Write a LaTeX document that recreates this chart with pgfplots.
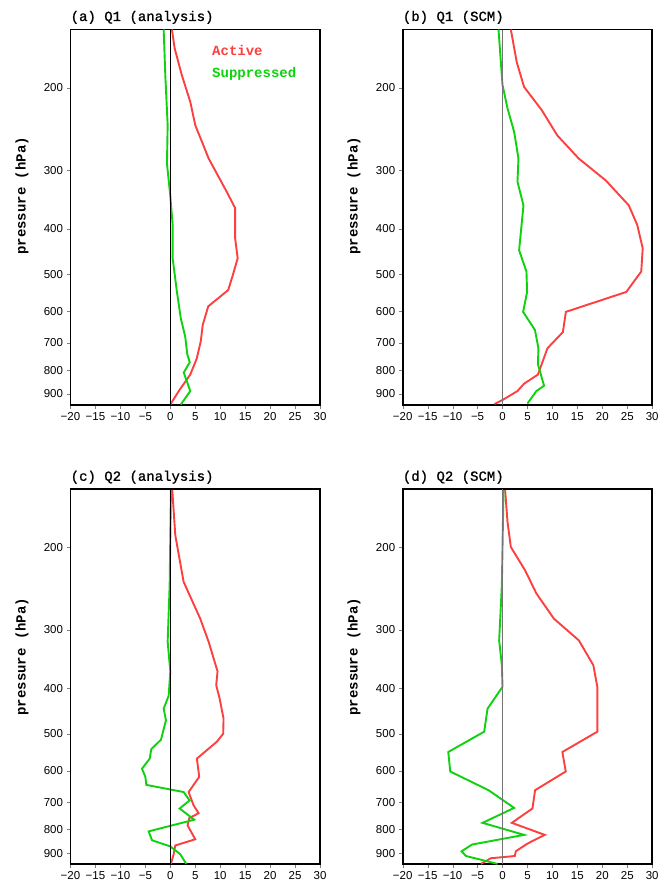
\documentclass[border=0pt]{standalone}
\usepackage{fontspec}
\setmainfont{Liberation Sans}
\newfontfamily\monofont{Liberation Mono}
\newfontfamily\monomed[FakeBold=1]{Liberation Mono}
\usepackage{pgfplots}
\pgfplotsset{compat=1.18}
\definecolor{actred}{RGB}{252,64,64}
\definecolor{supgreen}{RGB}{15,210,15}

\pgfplotsset{
  every axis/.append style={
    scale only axis, width=249.5pt, height=375.5pt,
    xmin=-20, xmax=30, ymin=150, ymax=950,
    xtick={-20,-15,-10,-5,0,5,10,15,20,25,30},
    xticklabels={−20,−15,−10,−5,0,5,10,15,20,25,30},
    ytick={200,300,400,500,600,700,800,900},
    yticklabels={200,300,400,500,600,700,800,900},
    tick align=outside, tick pos=left, major tick length=4pt,
    axis line style={line width=1.8pt},
    ticklabel style={font=\fontsize{11.5}{12}\selectfont},
  },
  every axis plot/.append style={line width=1.9pt},
}
\tikzset{
  zeroline/.style={black, line width=0.8pt},
  zerogray/.style={black!55, line width=1.3pt},
}

\begin{document}
\begin{tikzpicture}
\useasboundingbox (0,0) rectangle (665pt,882pt);

% (a) Q1 analysis
\begin{axis}[ymode=log, y dir=reverse, at={(70.5pt,477pt)}, anchor=south west]
  \addplot[actred, no marks] coordinates {
    (0.33,150) (0.87,164.5) (2.3,187.6) (4.0,214) (5.0,240) (7.7,283)
    (11.3,333) (13.0,361) (13.0,419) (13.5,462) (12.5,503) (11.6,540)
    (7.6,585) (6.5,641) (6.1,695) (5.3,756) (4.0,818) (1.7,887) (0,948) };
  \addplot[supgreen, no marks] coordinates {
    (-1.33,150) (-1.0,188) (-0.53,240) (-0.67,290) (0,340) (0.47,392)
    (0.47,462) (1.33,545) (2.1,620) (3.0,680) (3.4,740) (3.9,770)
    (2.7,810) (4.0,887) (2.1,948) };
  \addplot[zeroline, no marks] coordinates {(0,150) (0,950)};
\end{axis}

% (b) Q1 SCM
\begin{axis}[ymode=log, y dir=reverse, at={(402.7pt,477pt)}, anchor=south west]
  \addplot[actred, no marks] coordinates {
    (1.67,150) (2.87,176.5) (4.33,199) (7.87,223) (11.0,252.6) (15.3,283)
    (20.7,315) (25.3,356) (27.0,392) (28.1,440) (27.8,493) (24.8,545)
    (12.7,601) (12.1,664) (9.0,719) (7.1,818) (4.3,856) (3.0,887)
    (0,927) (-1.6,945) };
  \addplot[supgreen, no marks] coordinates {
    (-0.8,150) (0,197) (1.0,221) (2.33,248) (3.2,283) (3.0,317) (4.2,356)
    (3.33,444) (4.8,493) (4.93,545) (4.13,601) (6.5,657) (7.2,719)
    (7.1,778) (8.33,864) (6.8,887) (5.0,943) };
  \addplot[zerogray, no marks] coordinates {(0,150) (0,950)};
\end{axis}

% (c) Q2 analysis
\begin{axis}[ymode=log, y dir=reverse, at={(70.5pt,17.7pt)}, anchor=south west]
  \addplot[actred, no marks] coordinates {
    (0.4,151) (1.0,188.5) (2.67,237) (6.0,284) (7.67,318) (9.47,368)
    (9.2,394) (9.87,420) (10.67,464) (10.6,500) (9.33,520) (5.33,565)
    (5.8,618) (3.67,666) (4.67,711) (5.67,739) (3.8,757) (3.47,785)
    (5.0,840) (1.0,866) (0.67,904) (0.13,948) };
  \addplot[supgreen, no marks] coordinates {
    (0.13,151) (-0.13,241) (-0.53,318) (0,368) (-0.33,415) (-1.33,442)
    (-0.87,468) (-1.87,515) (-3.8,539) (-4.13,565) (-5.67,594) (-5.0,618)
    (-4.8,643) (2.67,666) (3.87,694) (1.87,722) (4.8,763) (-4.33,808)
    (-3.67,844) (0,870) (2.0,904) (3.2,948) };
  \addplot[zeroline, no marks] coordinates {(0,150) (0,950)};
\end{axis}

% (d) Q2 SCM
\begin{axis}[ymode=log, y dir=reverse, at={(402.7pt,17.7pt)}, anchor=south west]
  \addplot[actred, no marks] coordinates {
    (0.53,151) (1.0,176.5) (1.67,199.7) (4.53,224) (6.8,251) (10.3,284)
    (15.3,316) (18.2,357) (19.0,397) (19.0,495) (12.0,547) (12.67,602)
    (6.53,660) (6.0,722) (1.87,775) (8.47,822) (5.0,858) (2.67,891)
    (2.47,912) (-2.33,922) (-4.33,948) };
  \addplot[supgreen, no marks] coordinates {
    (0.2,151) (-0.13,241) (-0.67,316) (-0.13,357) (0,397) (-3.0,442)
    (-3.67,495) (-10.87,547) (-10.47,602) (-2.8,660) (2.33,720) (-4.0,775)
    (4.33,822) (-6.1,862) (-8.2,891) (-7.33,912) (-1.0,948) };
  \addplot[zerogray, no marks] coordinates {(0,150) (0,950)};
\end{axis}

% titles
\begin{scope}[every node/.style={anchor=base west, inner sep=0pt,
    font=\monomed\fontsize{14}{14}\selectfont}]
  \node at (70.5pt,861pt) {(a) Q1 (analysis)};
  \node at (402.7pt,861pt) {(b) Q1 (SCM)};
  \node at (70.5pt,401.2pt) {(c) Q2 (analysis)};
  \node at (402.7pt,401.2pt) {(d) Q2 (SCM)};
\end{scope}

% y labels
\begin{scope}[every node/.style={anchor=base, rotate=90, inner sep=0pt,
    font=\monofont\bfseries\fontsize{14}{14}\selectfont}]
  \node at (25.5pt,686pt) {pressure (hPa)};
  \node at (357.7pt,686pt) {pressure (hPa)};
  \node at (25.5pt,225.3pt) {pressure (hPa)};
  \node at (357.7pt,225.3pt) {pressure (hPa)};
\end{scope}

% legend text
\begin{scope}[every node/.style={anchor=base west, inner sep=0pt,
    font=\monofont\bfseries\fontsize{14}{14}\selectfont}]
  \node[text=actred] at (212pt,826pt) {Active};
  \node[text=supgreen] at (212pt,804pt) {Suppressed};
\end{scope}
\end{tikzpicture}
\end{document}
